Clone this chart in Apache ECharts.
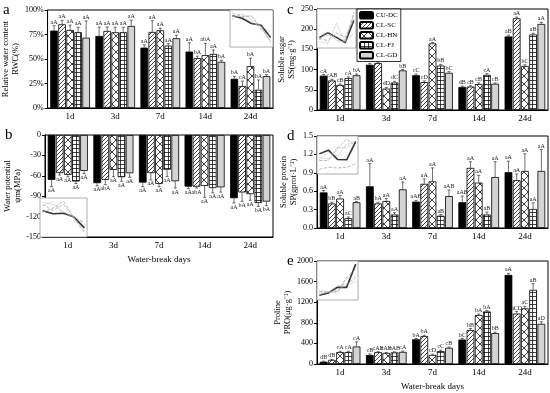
<!DOCTYPE html>
<html><head><meta charset="utf-8">
<script src="https://cdn.jsdelivr.net/npm/echarts@6/dist/echarts.min.js"></script>
<style>html,body{margin:0;padding:0;background:#fff}#c{width:550px;height:393px}</style>
</head><body><div id="c"></div>
<script>
const days = ['1d','3d','7d','14d','24d'];
const groups = ['CU-DC','CL-SC','CL-HN','CL-FJ','CL-GD'];

// rows = groups (CU-DC, CL-SC, CL-HN, CL-FJ, CL-GD), columns = days
const rwcMean = [[79,73.5,61.6,57.6,29.8],[85.4,78.6,77.6,50.9,22.4],[79.6,77.3,79.3,53.9,42.7],[77.3,77.3,63.7,55.2,18.6],[71.8,83.7,71.2,47.1,32.5]];
const rwcErr  = [[5,9,3,9,2.5],[4,4,11.5,2,5],[5,5,2,12,8],[5,5,2,4,10],[17,6,3,1.5,1.5]];
const rwcLab  = [['aA','aA','aA','aA','bA'],['aA','aA','aA','bA','cA'],['aA','aA','aA','abA','bA'],['aA','aA','aA','aA','bA'],['aA','aA','aA','bA','bA']];

const wpMean = [[-66,-70.8,-70,-76,-93],[-56,-66,-56,-76,-84.5],[-58.6,-51.3,-72,-75,-87],[-68.4,-62,-51,-78,-100],[-52.8,-56.2,-68,-77,-98]];
const wpErr  = [[10,4,6,3,7],[3,7,10,2,13],[3,10,4,17,9],[3,6,10,7,5],[4,6,10,7,6]];
const wpLab  = [['aA','aA','aA','aA','aA'],['aA','abA','aA','abA','bA'],['aA','aA','aA','aA','aA'],['aA','aA','aA','aA','bA'],['aA','aA','aA','aA','bA']];

const ssMean = [[85,112,86,57,182],[73,116,69,58,227],[62,53,165,64,109],[79,68,110,87,187],[86,98,92,65,213]];
const ssErr  = [[3,3,3,2,3],[3,2,3,2,3],[2,3,2,3,3],[3,3,3,3,3],[3,2,3,2,4]];
const ssLab  = [['cA','bA','cC','dB','aB'],['cAB','bA','cD','cB','aA'],['cB','dD','aA','cB','bC'],['cA','dC','bB','cA','aB'],['bA','bB','bC','cB','aA']];

const spMean = [[0.58,0.68,0.43,0.42,0.91],[0.40,0.40,0.72,0.98,0.78],[0.48,0.44,0.76,0.74,0.93],[0.16,0.22,0.20,0.22,0.31],[0.42,0.63,0.52,0.83,0.93]];
const spErr  = [[0.03,0.37,0.02,0.10,0.18],[0.02,0.02,0.08,0.10,0.10],[0.05,0.04,0.22,0.12,0.28],[0.02,0.03,0.02,0.04,0.10],[0.01,0.12,0.10,0.25,0.35]];
const spLab  = [['aA','aA','aAB','aAB','aA'],['bB','bA','aA','aA','aA'],['aA','aA','aA','aA','aA'],['aC','aA','aB','aB','aA'],['aB','aA','aAB','aA','aA']];

const proMean = [[45,175,480,475,1730],[80,230,540,660,980],[230,215,175,950,1080],[230,225,250,1020,1440],[340,235,315,600,780]];
const proErr  = [[10,20,15,20,30],[10,10,15,30,40],[15,10,15,20,40],[15,10,20,20,120],[90,15,15,20,40]];
const proLab  = [['dB','cB','bA','bC','aA'],['dB','cAB','bA','bB','aCD'],['cA','cAB','cD','bA','aC'],['cA','cAB','cC','bA','aB'],['cA','cA','cB','bB','aD']];

const yTicksA = {min:0, max:100, interval:25};
const yTicksB = {min:-150, max:0, interval:30};
const yTicksC = {min:0, max:250, interval:50};
const yTicksD = {min:0, max:1.5, interval:0.3};
const yTicksE = {min:0, max:2000, interval:400};

const FONT = 'Liberation Serif';
const CAT = 0.12, GAP = 0.06;

function tile(w, h, draw) {
  const c = document.createElement('canvas'); c.width = w; c.height = h;
  const g = c.getContext('2d'); g.fillStyle = '#fff'; g.fillRect(0,0,w,h);
  g.strokeStyle = '#111'; g.lineWidth = 0.8; g.beginPath(); draw(g); g.stroke();
  return {image: c, repeat: 'repeat'};
}
const patDiag = tile(4,4,g=>{g.moveTo(-1,5);g.lineTo(5,-1);g.moveTo(-1,1);g.lineTo(1,-1);g.moveTo(3,5);g.lineTo(5,3);});
const patCross = tile(8,8,g=>{g.moveTo(0,0);g.lineTo(8,8);g.moveTo(8,0);g.lineTo(0,8);});
const patGrid = tile(4,4,g=>{g.moveTo(0.5,0);g.lineTo(0.5,4);g.moveTo(0,0.5);g.lineTo(4,0.5);});
const fills = ['#000', patDiag, patCross, patGrid, '#d4d4d4'];

const panels = [
  {mean:rwcMean, err:rwcErr, lab:rwcLab, yt:yTicksA, neg:false, grid:{left:45,top:10,width:228,height:98}, inset:{left:230,top:10,width:43,height:37},
   yname:'Relative water content\nRWC(%)', fmt:v=>v+'%', xname:''},
  {mean:wpMean, err:wpErr, lab:wpLab, yt:yTicksB, neg:true, grid:{left:45,top:135,width:228,height:102}, inset:{left:40,top:198,width:47,height:39},
   yname:'Water potential\nψm(MPa)', fmt:v=>String(v), xname:'Water-break days'},
  {mean:ssMean, err:ssErr, lab:ssLab, yt:yTicksC, neg:false, grid:{left:317,top:9,width:231,height:101}, inset:{left:317,top:9,width:39,height:39},
   yname:'Soluble sugar\nSS(mg·g⁻¹)', fmt:v=>String(v), xname:''},
  {mean:spMean, err:spErr, lab:spLab, yt:yTicksD, neg:false, grid:{left:317,top:136,width:231,height:92}, inset:{left:317,top:136,width:41,height:38},
   yname:'Soluble protein\nSP(gprot·L⁻¹)', fmt:v=>(+v).toFixed(1), xname:''},
  {mean:proMean, err:proErr, lab:proLab, yt:yTicksE, neg:false, grid:{left:317,top:261,width:231,height:103}, inset:{left:317,top:261,width:41,height:39},
   yname:'Proline\nPRO(μg·g⁻¹)', fmt:v=>String(v), xname:'Water-break days'}
];

const grid = [], xAxis = [], yAxis = [], series = [];
panels.forEach((P, i) => {
  grid.push(Object.assign({show:true, borderColor:'#000', borderWidth:1, backgroundColor:'transparent', containLabel:false}, P.grid));
  xAxis.push({type:'category', gridIndex:i, data:days, position:'bottom',
    axisLine:{onZero:false, lineStyle:{color:'#000', width:1}},
    axisTick:{alignWithLabel:true, length:3, lineStyle:{color:'#000'}},
    axisLabel:{color:'#000', fontFamily:FONT, fontSize:9, margin:4},
    name:P.xname, nameLocation:'middle', nameGap:18, nameTextStyle:{color:'#000', fontFamily:FONT, fontSize:9}});
  yAxis.push({type:'value', gridIndex:i, min:P.yt.min, max:P.yt.max, interval:P.yt.interval,
    axisLine:{show:true, lineStyle:{color:'#000', width:1}},
    axisTick:{show:true, length:3, lineStyle:{color:'#000'}},
    splitLine:{show:false},
    axisLabel:{color:'#000', fontFamily:FONT, fontSize:8, margin:4, formatter:P.fmt},
    name:P.yname, nameLocation:'middle', nameGap:18, nameRotate:90,
    nameTextStyle:{color:'#000', fontFamily:FONT, fontSize:8.5, lineHeight:10}});
  groups.forEach((g, s) => {
    series.push({type:'bar', name:g, xAxisIndex:i, yAxisIndex:i, data:P.mean[s],
      barGap:(GAP*100)+'%', barCategoryGap:(CAT*100)+'%',
      itemStyle:{color:fills[s], borderColor:'#000', borderWidth:0.8}, z:2});
  });
  const errData = [], labs = [];
  groups.forEach((g, s) => days.forEach((d, k) => { errData.push([k, s, P.mean[s][k], P.err[s][k]]); labs.push(P.lab[s][k]); }));
  const neg = P.neg;
  series.push({type:'custom', name:'err'+i, xAxisIndex:i, yAxisIndex:i, data:errData, z:5,
    encode:{x:0, y:2},
    renderItem:(params, api) => {
      const k = api.value(0), s = api.value(1), v = api.value(2), e = api.value(3);
      const band = api.size([1,0])[0];
      const total = band*(1-CAT);
      const bw = total/(5+4*GAP);
      const x = api.coord([k,0])[0] - total/2 + s*bw*(1+GAP) + bw/2;
      const y0 = api.coord([k,v])[1];
      const y1 = api.coord([k, neg ? v-e : v+e])[1];
      const st = {stroke:'#333', lineWidth:0.7};
      return {type:'group', children:[
        {type:'line', shape:{x1:x,y1:y0,x2:x,y2:y1}, style:st},
        {type:'line', shape:{x1:x-1.5,y1:y1,x2:x+1.5,y2:y1}, style:st},
        {type:'text', x:x, y: neg ? y1+1 : y1-0.5, style:{text:labs[params.dataIndex], textAlign:'center',
          textVerticalAlign: neg ? 'top' : 'bottom', fontSize:6, fontFamily:FONT, fill:'#222'}}
      ]};
    }});
});

// insets
panels.forEach((P, i) => {
  const gi = 5 + i;
  grid.push(Object.assign({show:true, borderColor:'#999', borderWidth:0.8, backgroundColor:'#fff', z:10}, P.inset));
  xAxis.push({type:'value', gridIndex:gi, min:-0.25, max:4.25, show:false});
  yAxis.push({type:'value', gridIndex:gi, show:false,
    min:v=>v.min-(v.max-v.min)*0.15, max:v=>v.max+(v.max-v.min)*0.1});
  groups.forEach((g, s) => {
    series.push({type:'line', name:'inset'+i+'_'+s, xAxisIndex:gi, yAxisIndex:gi, z:11, symbol:'none',
      data:P.mean[s].map((v,k)=>[k,v]),
      lineStyle: s===0 ? {color:'#333', width:1.6} : {color:'#aaa', width:0.8, type: s%2 ? 'dashed':'dotted'}});
  });
});

const letters = [['a',3,3],['b',5,128],['c',287,3],['d',287,129],['e',287,254]];
const chart = echarts.init(document.getElementById('c'));
chart.setOption({
  animation:false,
  backgroundColor:'#fff',
  textStyle:{fontFamily:FONT},
  grid, xAxis, yAxis, series,
  legend:{data:groups, left:357, top:9, orient:'vertical', itemWidth:13, itemHeight:6.5, itemGap:1.5,
    padding:[2,3,2,2], borderColor:'#000', borderWidth:0.8, backgroundColor:'#fff', z:20, selectedMode:false,
    textStyle:{fontSize:7, fontFamily:FONT, color:'#000', padding:[0,0,0,-2]}},
  graphic: letters.map(([t,x,y]) => ({type:'text', left:x, top:y, z:30,
    style:{text:t, fontSize:15, fontFamily:FONT, fill:'#000'}}))
});
</script></body></html>
